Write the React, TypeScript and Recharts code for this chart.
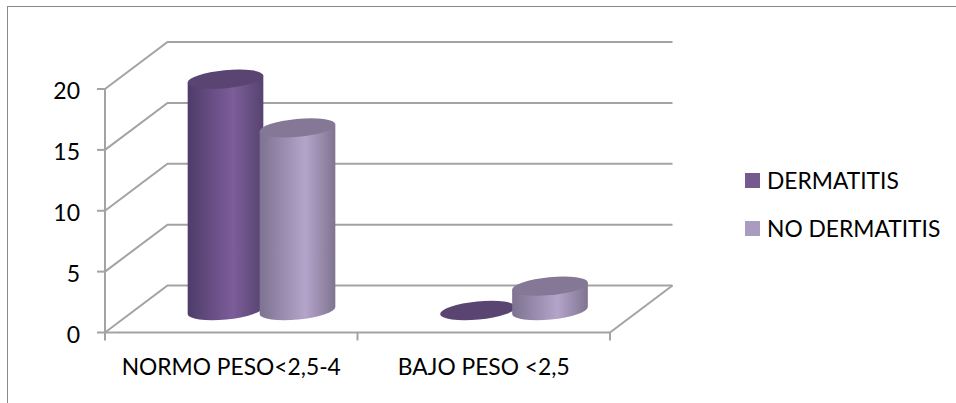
import React from "react";
import { Bar, BarChart, CartesianGrid, Legend, XAxis, YAxis } from "recharts";

const categories = ["NORMO PESO<2,5-4", "BAJO PESO <2,5"];
const dermatitis = [19, 0];
const noDermatitis = [15, 2];
const yTicks = [0, 5, 10, 15, 20];

const data = categories.map((name, i) => ({
  name,
  DERMATITIS: dermatitis[i],
  "NO DERMATITIS": noDermatitis[i],
}));

const FONT = "Lato, 'Open Sans', sans-serif";
const LINE = "#a3a3a3";

// fake 3D: depth of the walls and where the cylinders sit on the floor
const WALL_DX = 62.5;
const WALL_DY = 47;
const BAR_DX = 30.5;
const BAR_DY = -22;
const TILT = 5.5;
const RY = 9;

const TOPS: Record<string, string> = { DERMATITIS: "#5a4472", "NO DERMATITIS": "#847896" };
const GRADS: Record<string, string> = { DERMATITIS: "url(#purpleBody)", "NO DERMATITIS": "url(#lilacBody)" };

function Cylinder(props: any) {
  const { x, y, width, height, dataKey } = props;
  const rx = width / 2;
  const cx = x + rx + BAR_DX;
  const topY = y + BAR_DY;
  const botY = y + height + BAR_DY;
  const a = (TILT * Math.PI) / 180;
  const ox = rx * Math.cos(a);
  const oy = rx * Math.sin(a);
  const body = `M${cx - ox} ${topY + oy} L${cx - ox} ${botY + oy} A${rx} ${RY} ${-TILT} 0 0 ${cx + ox} ${botY - oy} L${cx + ox} ${topY - oy} Z`;
  return (
    <g>
      {height > 0 && <path d={body} fill={GRADS[dataKey]} />}
      <ellipse cx={cx} cy={topY} rx={rx} ry={RY} fill={TOPS[dataKey]} transform={`rotate(${-TILT} ${cx} ${topY})`} />
    </g>
  );
}

// each gridline runs up the side wall, then across the back wall
function WallLine(props: any) {
  const { x1, x2, y1, y, height } = props;
  const bx = x1 + WALL_DX;
  const by = y1 - WALL_DY;
  const isFloor = Math.abs(y1 - (y + height)) < 1;
  return (
    <g key={props.key}>
      <polyline points={`${x1},${y1} ${bx},${by} ${x2 + WALL_DX},${by}`} fill="none" stroke={LINE} strokeWidth={2} />
      {isFloor && <line x1={x2} y1={y1} x2={x2 + WALL_DX} y2={by} stroke={LINE} strokeWidth={2} />}
    </g>
  );
}

// category ticks sit on the band edges, the label in the middle
function CategoryTick(props: any) {
  const { x, y, payload, width, index } = props;
  const half = width / categories.length / 2;
  const top = y - 8;
  return (
    <g>
      <line x1={x - half} x2={x - half} y1={top} y2={top + 8} stroke={LINE} strokeWidth={2} />
      {index === categories.length - 1 && <line x1={x + half} x2={x + half} y1={top} y2={top + 8} stroke={LINE} strokeWidth={2} />}
      <text x={x} y={y + 34} textAnchor="middle" fontFamily={FONT} fontSize={22.8} fill="#000">
        {payload.value}
      </text>
    </g>
  );
}

function LegendList({ payload }: any) {
  return (
    <div style={{ fontFamily: FONT, fontSize: 22.8, color: "#000" }}>
      {(payload || []).map((p: any) => (
        <div key={p.value} style={{ display: "flex", alignItems: "center", height: 25, marginBottom: 23 }}>
          <span style={{ width: 15, height: 15, background: p.color, marginRight: 7, flex: "none" }} />
          <span style={{ position: "relative", top: -1 }}>{p.value}</span>
        </div>
      ))}
    </div>
  );
}

export default function App() {
  return (
    <div style={{ position: "absolute", left: 0, top: 0, width: 956, height: 403, overflow: "hidden", background: "#fff" }}>
      <div style={{ position: "absolute", left: 7, top: 6, right: 0, bottom: 0, borderTop: "1px solid #8a8a8a", borderLeft: "1px solid #8a8a8a" }} />
      <div style={{ position: "absolute", left: 0, top: 0 }}>
        <BarChart
          width={956}
          height={403}
          data={data}
          barSize={76}
          barGap={-4}
          margin={{ top: 89, right: 135, bottom: 40.5, left: 45 }}
        >
          <defs>
            <linearGradient id="purpleBody" x1="0" x2="1" y1="0" y2="0">
              <stop offset="0" stopColor="#4e3c6a" />
              <stop offset="0.6" stopColor="#7c5d9a" />
              <stop offset="1" stopColor="#56436f" />
            </linearGradient>
            <linearGradient id="lilacBody" x1="0" x2="1" y1="0" y2="0">
              <stop offset="0" stopColor="#7d7290" />
              <stop offset="0.6" stopColor="#b4a4ca" />
              <stop offset="1" stopColor="#7f7490" />
            </linearGradient>
          </defs>
          <CartesianGrid horizontal={WallLine} vertical={false} />
          <XAxis
            dataKey="name"
            height={30}
            tickLine={false}
            axisLine={{ stroke: LINE, strokeWidth: 2 }}
            interval={0}
            tick={CategoryTick}
          />
          <YAxis
            width={60}
            domain={[0, 20]}
            ticks={yTicks}
            tickSize={8}
            tickMargin={17}
            tickLine={{ stroke: LINE, strokeWidth: 2 }}
            axisLine={{ stroke: LINE, strokeWidth: 2 }}
            tick={{ fontFamily: FONT, fontSize: 23, fill: "#000", dy: 2 }}
          />
          <Legend
            layout="vertical"
            align="right"
            verticalAlign="top"
            width={211}
            content={LegendList}
            wrapperStyle={{ left: 745, top: 168 }}
          />
          <Bar dataKey="DERMATITIS" fill="#75598f" shape={Cylinder} isAnimationActive={false} />
          <Bar dataKey="NO DERMATITIS" fill="#a99cc0" shape={Cylinder} isAnimationActive={false} />
        </BarChart>
      </div>
    </div>
  );
}
